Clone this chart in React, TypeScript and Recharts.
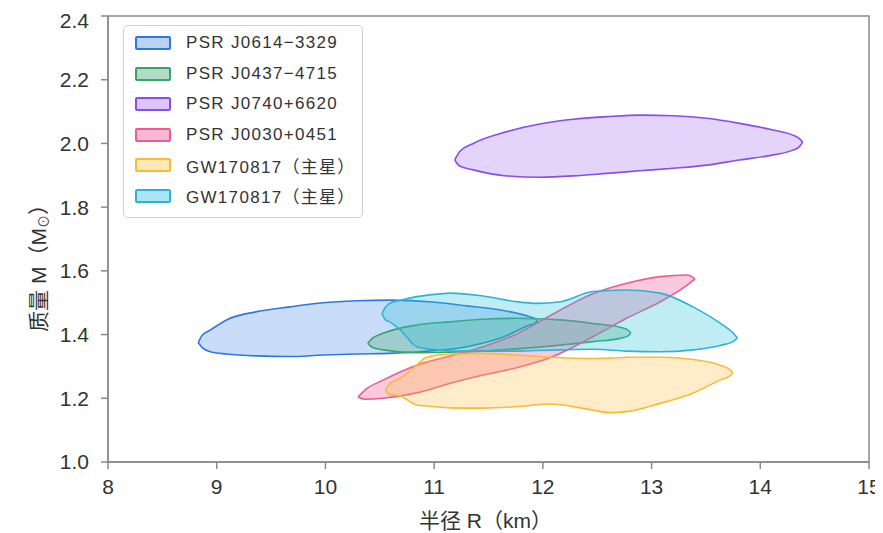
import { ComposedChart, Area, XAxis, YAxis, ReferenceArea, Legend, Label } from 'recharts'

const FONT = "'Liberation Sans', Arial, 'Noto Sans CJK SC', sans-serif"

// each row: radius R (km), lower mass, upper mass (M⊙)
const J0614: [number, number, number][] = [
  [8.83, 1.374, 1.374], [8.865, 1.36, 1.397], [8.94, 1.346, 1.414], [9.09, 1.339, 1.446],
  [9.37, 1.333, 1.472], [9.67, 1.331, 1.487], [9.98, 1.336, 1.5], [10.29, 1.339, 1.506],
  [10.59, 1.341, 1.508], [10.99, 1.349, 1.502], [11.3, 1.362, 1.49], [11.61, 1.389, 1.477],
  [11.88, 1.43, 1.456], [11.93, 1.436, 1.45], [11.95, 1.443, 1.443],
]
const J0437: [number, number, number][] = [
  [10.39, 1.373, 1.373], [10.43, 1.36, 1.388], [10.53, 1.352, 1.404], [10.84, 1.343, 1.43],
  [11.15, 1.345, 1.44], [11.45, 1.348, 1.448], [11.76, 1.355, 1.451], [12.16, 1.367, 1.446],
  [12.46, 1.378, 1.435], [12.71, 1.388, 1.423], [12.78, 1.395, 1.415], [12.81, 1.405, 1.405],
]
const J0740: [number, number, number][] = [
  [11.19, 1.948, 1.948], [11.23, 1.93, 1.972], [11.36, 1.917, 2.0], [11.67, 1.898, 2.037],
  [11.97, 1.894, 2.061], [12.28, 1.898, 2.076], [12.59, 1.906, 2.084], [12.89, 1.914, 2.089],
  [13.2, 1.922, 2.087], [13.51, 1.932, 2.079], [13.81, 1.948, 2.063], [14.12, 1.964, 2.042],
  [14.3, 1.979, 2.026], [14.36, 1.99, 2.015], [14.39, 2.004, 2.004],
]
const J0030: [number, number, number][] = [
  [10.3, 1.204, 1.204], [10.36, 1.197, 1.225], [10.53, 1.2, 1.257], [10.84, 1.217, 1.304],
  [11.15, 1.247, 1.333], [11.45, 1.273, 1.362], [11.76, 1.296, 1.402], [12.07, 1.328, 1.46],
  [12.46, 1.393, 1.528], [12.77, 1.451, 1.561], [13.08, 1.503, 1.582], [13.33, 1.556, 1.587],
  [13.4, 1.575, 1.575],
]
const GW_A: [number, number, number][] = [
  [10.55, 1.226, 1.226], [10.59, 1.213, 1.245], [10.69, 1.207, 1.264], [10.84, 1.179, 1.304],
  [10.93, 1.176, 1.329], [11.15, 1.17, 1.339], [11.45, 1.169, 1.341], [11.76, 1.174, 1.336],
  [12.07, 1.182, 1.329], [12.46, 1.163, 1.325], [12.62, 1.155, 1.326], [12.77, 1.158, 1.329],
  [13.08, 1.184, 1.329], [13.38, 1.216, 1.322], [13.63, 1.257, 1.304], [13.72, 1.27, 1.29],
  [13.75, 1.28, 1.28],
]
const GW_B: [number, number, number][] = [
  [10.52, 1.466, 1.466], [10.55, 1.447, 1.485], [10.59, 1.44, 1.498], [10.69, 1.414, 1.508],
  [10.84, 1.362, 1.519], [11.03, 1.352, 1.527], [11.15, 1.348, 1.53], [11.45, 1.348, 1.521],
  [11.76, 1.348, 1.503], [11.95, 1.35, 1.498], [12.16, 1.352, 1.503], [12.46, 1.354, 1.535],
  [12.77, 1.348, 1.54], [13.08, 1.346, 1.53], [13.38, 1.352, 1.487], [13.63, 1.366, 1.436],
  [13.75, 1.378, 1.405], [13.79, 1.39, 1.39],
]

const X_TICKS = [8, 9, 10, 11, 12, 13, 14, 15]
const Y_TICKS = [1.0, 1.2, 1.4, 1.6, 1.8, 2.0, 2.2, 2.4]

const SERIES = [
  { name: 'PSR J0614−3329', pts: J0614, stroke: '#2f78e0', fill: '#4f8ee8' },
  { name: 'PSR J0437−4715', pts: J0437, stroke: '#3aa36a', fill: '#3aa86b' },
  { name: 'PSR J0740+6620', pts: J0740, stroke: '#8b4ceb', fill: '#a571f0' },
  { name: 'PSR J0030+0451', pts: J0030, stroke: '#ee5a92', fill: '#ee4d8d' },
  { name: 'GW170817（主星）', pts: GW_A, stroke: '#f8bb32', fill: '#ffc54d' },
  { name: 'GW170817（主星）', pts: GW_B, stroke: '#2bb4d8', fill: '#30bfdc' },
]

const rows = (pts: [number, number, number][]) => pts.map(([r, lo, hi]) => ({ r, m: [lo, hi] }))

const tick = { fontSize: 21, fill: '#333', fontFamily: FONT }

function LegendBox() {
  return (
    <div
      style={{
        width: 238,
        height: 189,
        border: '1px solid #cfcfcf',
        borderRadius: 5,
        background: '#fff',
        boxSizing: 'content-box',
        paddingTop: 2,
      }}
    >
      {SERIES.map((s, i) => (
        <div key={i} style={{ display: 'flex', alignItems: 'center', height: 30.5 }}>
          <div
            style={{
              marginLeft: 11,
              width: 32,
              height: 10,
              border: `2px solid ${s.stroke}`,
              background: s.fill + '66',
              borderRadius: 2,
            }}
          />
          <span
            style={{
              marginLeft: 15,
              fontSize: 17,
              letterSpacing: 1.3,
              color: '#333',
              fontFamily: FONT,
              whiteSpace: 'nowrap',
            }}
          >
            {s.name}
          </span>
        </div>
      ))}
    </div>
  )
}

export default function App() {
  return (
    <div style={{ position: 'relative', width: 875, height: 525, fontFamily: FONT }}>
      {/* title sits mostly above the visible page, as in the source crop */}
      <div
        style={{
          position: 'absolute',
          top: -30,
          left: 0,
          width: 924,
          textAlign: 'center',
          fontSize: 28,
          lineHeight: '28px',
          color: '#2a6de0',
          fontFamily: "'Noto Sans CJK SC'",
          whiteSpace: 'nowrap',
          zIndex: 2,
        }}
      >
        中子星质量—半径观测约束
      </div>
      <ComposedChart width={875} height={525} margin={{ top: 8, right: 14, bottom: 31, left: 40 }}>
        <XAxis
          dataKey="r"
          type="number"
          domain={[8, 15]}
          ticks={X_TICKS}
          allowDataOverflow
          height={40}
          tick={tick}
          tickSize={7}
          tickMargin={10}
          stroke="#8a8a8a"
          strokeWidth={1.5}
        >
          <Label
            content={({ viewBox }: any) => (
              <text
                x={viewBox.x + viewBox.width / 2 - 3}
                y={viewBox.y + viewBox.height + 26}
                textAnchor="middle"
                fontSize={21}
                fill="#333"
                fontFamily={FONT}
              >
                半径 R（km）
              </text>
            )}
          />
        </XAxis>
        <YAxis
          type="number"
          domain={[1, 2.4]}
          ticks={Y_TICKS}
          allowDataOverflow
          width={60}
          tick={tick}
          tickSize={7}
          tickMargin={12}
          tickFormatter={(v: number) => v.toFixed(1)}
          stroke="#8a8a8a"
          strokeWidth={1.5}
        >
          <Label
            content={({ viewBox }: any) => {
              const x = viewBox.x - 10
              const y = viewBox.y + viewBox.height / 2 + 24
              return (
                <text
                  x={x}
                  y={y}
                  transform={`rotate(-90, ${x}, ${y})`}
                  textAnchor="middle"
                  dominantBaseline="central"
                  fontSize={21}
                  fill="#333"
                  fontFamily={FONT}
                >
                  质量 M（M
                  <tspan fontSize={13} dy={5}>⊙</tspan>
                  <tspan dy={-5}>）</tspan>
                </text>
              )
            }}
          />
        </YAxis>
        <ReferenceArea x1={8} x2={15} y1={1} y2={2.4} fill="none" stroke="#8a8a8a" strokeWidth={1.5} />
        {SERIES.map((s, i) => (
          <Area
            key={i}
            name={s.name}
            data={rows(s.pts)}
            dataKey="m"
            type="monotone"
            stroke={s.stroke}
            strokeWidth={1.6}
            fill={s.fill}
            fillOpacity={0.3}
            dot={false}
            activeDot={false}
            isAnimationActive={false}
          />
        ))}
        <Legend
          layout="vertical"
          align="center"
          verticalAlign="middle"
          wrapperStyle={{ left: 115, top: 17, width: 240, height: 193 }}
          content={() => <LegendBox />}
        />
      </ComposedChart>
    </div>
  )
}
